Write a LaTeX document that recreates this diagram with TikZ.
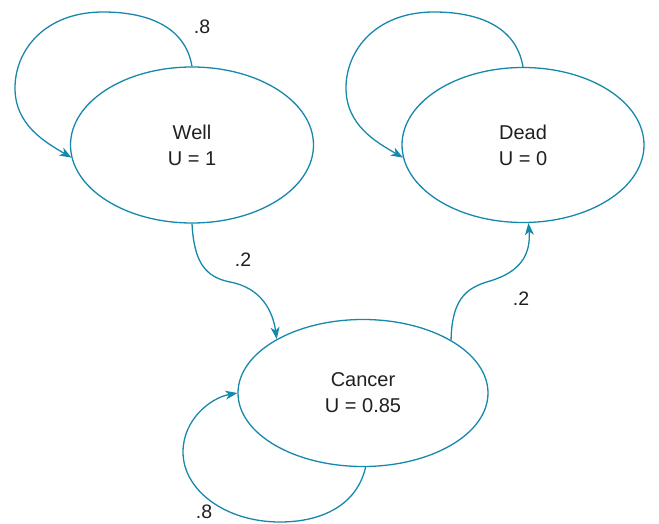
\documentclass[tikz,border=0pt]{standalone}
\usepackage{fontspec}
\setmainfont{Liberation Sans}
\usetikzlibrary{shapes.geometric,arrows.meta}
\definecolor{edgeblue}{RGB}{22,136,172}
\definecolor{inkgray}{RGB}{35,31,32}
\begin{document}
\begin{tikzpicture}[x=1pt,y=-1pt,
  state/.style={ellipse,draw=edgeblue,line width=1.3pt,inner sep=0pt,
    align=center,text=inkgray,font=\fontsize{20}{26}\selectfont},
  link/.style={draw=edgeblue,line width=1.3pt,
    -{Stealth[length=12pt,width=9pt,inset=3.5pt]}},
  prob/.style={text=inkgray,font=\fontsize{19.5}{24}\selectfont,inner sep=0pt}]
\useasboundingbox (0,0) rectangle (659,524);
\node[state,minimum width=243pt,minimum height=156pt] (well) at (192,145) {Well\\U = 1};
\node[state,minimum width=242pt,minimum height=155pt] (dead) at (523,145) {Dead\\U = 0};
\node[state,minimum width=250pt,minimum height=147pt] (cancer) at (363,393) {Cancer\\U = 0.85};
% self loops
\draw[link] (well.north) .. controls (185,25) and (145,12) .. (103,12)
  .. controls (45,12) and (15,50) .. (15,88)
  .. controls (15,125) and (45,142) .. (well.186);
\draw[link] (dead.north) .. controls (516,25) and (476,12) .. (434,12)
  .. controls (376,12) and (346,50) .. (346,88)
  .. controls (346,125) and (376,142) .. (dead.186);
\draw[link] (cancer.-88) .. controls (357,505) and (322,522) .. (280,522)
  .. controls (225,522) and (183,490) .. (183,452)
  .. controls (183,420) and (210,398) .. (cancer.west);
% transitions
\draw[link] (well.south) .. controls (194,262) and (205,277) .. (230,282)
  .. controls (262,288) and (273,312) .. (cancer.148);
\draw[link] (cancer.31) .. controls (452,300) and (465,288) .. (490,281)
  .. controls (520,272) and (531,255) .. (dead.-86);
% labels
\node[prob] (p1) at (202,27) {.8};
\node[prob] (p2) at (243,260) {.2};
\node[prob] (p3) at (521,299) {.2};
\node[prob] (p4) at (204,512) {.8};
\end{tikzpicture}
\end{document}
